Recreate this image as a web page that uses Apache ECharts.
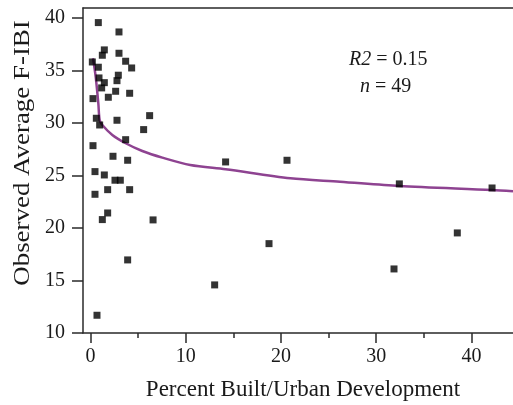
<!DOCTYPE html>
<html>
<head>
<meta charset="utf-8">
<script src="https://cdn.jsdelivr.net/npm/echarts@6/dist/echarts.min.js"></script>
<style>html,body{margin:0;padding:0;background:#fff;}#c{width:513px;height:405px;}</style>
</head>
<body>
<div id="c"></div>
<script>
const pointX = [0.81,2.98,1.44,1.23,2.98,3.68,4.31,0.18,0.81,0.88,2.91,2.77,1.44,1.16,2.63,1.86,4.10,0.25,0.60,2.77,6.20,0.95,5.57,3.68,0.25,2.35,3.89,0.46,1.44,2.56,3.12,1.79,4.10,0.46,1.79,1.23,6.56,3.89,0.67,14.18,20.63,32.43,42.17,18.74,13.03,31.87,38.52];
const pointY = [39.56,38.67,36.96,36.45,36.64,35.88,35.24,35.81,35.31,34.29,34.55,34.03,33.84,33.34,33.02,32.45,32.83,32.32,30.45,30.26,30.70,29.81,29.37,28.41,27.84,26.83,26.45,25.37,25.05,24.55,24.55,23.65,23.65,23.21,21.43,20.80,20.77,16.96,11.69,26.29,26.45,24.20,23.81,18.51,14.58,16.10,19.53];
const curveX = [0.25,0.53,0.81,0.95,1.23,2.28,3.68,5.43,7.53,10.47,14.18,20.98,26.2,32.43,42.16,44.37];
const curveY = [36.16,34.41,31.88,30.29,29.81,28.86,28.07,27.33,26.70,26.0,25.59,24.73,24.41,24.0,23.62,23.5];
const xMajorTicks = [0,10,20,30,40];
const xMinorTicks = [5,15,25,35];
const yTicks = [10,15,20,25,30,35,40];
const xTitle = 'Percent Built/Urban Development';
const yTitle = 'Observed Average F-IBI';

const FONT = 'Liberation Serif';
const AX = '#2a2a2a';
const TXT = '#1a1a1a';
const chart = echarts.init(document.getElementById('c'), null, {renderer:'canvas'});
const XMIN = -0.8, XMAX = 44.37, YMIN = 10, YMAX = 40.95;
chart.setOption({
  animation:false,
  backgroundColor:'#fff',
  grid:{left:83, right:0, top:8, bottom:72, containLabel:false},
  xAxis:[
    {type:'value', position:'bottom', min:XMIN, max:XMAX,
     axisLine:{show:true, onZero:false, lineStyle:{color:AX, width:1.5}},
     axisTick:{show:true, inside:false, length:10, customValues:xMajorTicks, lineStyle:{color:AX, width:1.5}},
     axisLabel:{show:true, customValues:xMajorTicks, margin:14, fontFamily:FONT, fontSize:20, color:TXT},
     splitLine:{show:false}},
    {type:'value', position:'bottom', min:XMIN, max:XMAX,
     axisLine:{show:false},
     axisTick:{show:true, inside:false, length:5, customValues:xMinorTicks, lineStyle:{color:AX, width:1.5}},
     axisLabel:{show:false}, splitLine:{show:false}},
    {type:'value', position:'top', min:XMIN, max:XMAX,
     axisLine:{show:true, onZero:false, lineStyle:{color:AX, width:1.5}},
     axisTick:{show:false}, axisLabel:{show:false}, splitLine:{show:false}}
  ],
  yAxis:{type:'value', min:YMIN, max:YMAX,
     axisLine:{show:true, onZero:false, lineStyle:{color:AX, width:1.5}},
     axisTick:{show:true, inside:false, length:11, customValues:yTicks, lineStyle:{color:AX, width:1.5}},
     axisLabel:{show:true, customValues:yTicks, margin:18, fontFamily:FONT, fontSize:20, color:TXT},
     splitLine:{show:false}},
  series:[
    {type:'line', xAxisIndex:0, data:curveX.map((x,i)=>[x,curveY[i]]), smooth:0.3, showSymbol:false, symbol:'none',
     lineStyle:{color:'#8e4391', width:2.5}, z:2},
    {type:'scatter', xAxisIndex:0, data:pointX.map((x,i)=>[x,pointY[i]]), symbol:'rect', symbolSize:7,
     itemStyle:{color:'#000'}, z:3}
  ],
  graphic:[
    {type:'text', x:303, y:390, style:{text:xTitle, font:'23px "Liberation Serif"', fill:TXT, textAlign:'center', textVerticalAlign:'middle'}},
    {type:'text', x:23, y:153, rotation:Math.PI/2, scaleX:1.17, style:{text:yTitle, font:'23px "Liberation Serif"', fill:TXT, textAlign:'center', textVerticalAlign:'middle'}},
    {type:'text', x:349, y:60, style:{rich:{i:{fontStyle:'italic', fontFamily:FONT, fontSize:20, fill:TXT}, n:{fontFamily:FONT, fontSize:20, fill:TXT}}, text:'{i|R2}{n| = 0.15}', textVerticalAlign:'middle'}},
    {type:'text', x:360, y:87, style:{rich:{i:{fontStyle:'italic', fontFamily:FONT, fontSize:20, fill:TXT}, n:{fontFamily:FONT, fontSize:20, fill:TXT}}, text:'{i|n}{n| = 49}', textVerticalAlign:'middle'}}
  ]
});
</script>
</body>
</html>
